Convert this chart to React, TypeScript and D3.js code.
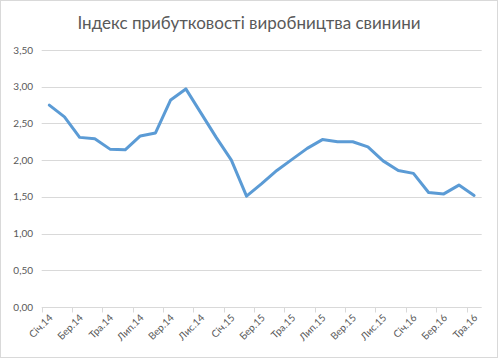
import React, { useRef, useEffect } from "react";
import * as d3 from "d3";

const months = [
    "Січ.14", "Лют.14", "Бер.14", "Кві.14", "Тра.14", "Чер.14", "Лип.14", "Сер.14", "Вер.14", "Жов.14", "Лис.14", "Гру.14",
    "Січ.15", "Лют.15", "Бер.15", "Кві.15", "Тра.15", "Чер.15", "Лип.15", "Сер.15", "Вер.15", "Жов.15", "Лис.15", "Гру.15",
    "Січ.16", "Лют.16", "Бер.16", "Кві.16", "Тра.16",
];
const values = [
    2.75, 2.59, 2.31, 2.29, 2.15, 2.14, 2.33, 2.37, 2.82, 2.97, 2.64, 2.31,
    2.00, 1.51, 1.68, 1.86, 2.01, 2.16, 2.28, 2.25, 2.25, 2.18, 1.99, 1.86,
    1.82, 1.56, 1.54, 1.66, 1.52,
];
const yTicks = [0, 0.5, 1, 1.5, 2, 2.5, 3, 3.5];
const title = "Індекс прибутковості виробництва свинини";

const W = 499;
const H = 359;
const FONT = "Lato, 'Open Sans', sans-serif";

export default function App() {
    const svgRef = useRef<SVGSVGElement>(null);

    useEffect(() => {
        if (!svgRef.current) return;
        const svg = d3.select(svgRef.current);
        svg.selectAll("*").remove();

        const left = 41.7, right = 481.7, top = 50, bottom = 307;

        const x = d3.scaleBand<string>().domain(months).range([left, right]);
        const y = d3.scaleLinear().domain([0, 3.5]).range([bottom, top]);

        // chart border
        svg.append("rect")
            .attr("x", 0.5).attr("y", 0.5)
            .attr("width", W - 2).attr("height", H - 2)
            .attr("fill", "white")
            .attr("stroke", "#D9D9D9");

        svg.append("text")
            .attr("x", 249).attr("y", 29)
            .attr("text-anchor", "middle")
            .style("font-family", FONT)
            .style("font-size", "17px")
            .attr("fill", "#595959")
            .text(title);

        // gridlines
        svg.append("g").selectAll("line")
            .data(yTicks.filter(d => d > 0))
            .join("line")
            .attr("x1", left).attr("x2", right)
            .attr("y1", d => Math.round(y(d)) + 0.5)
            .attr("y2", d => Math.round(y(d)) + 0.5)
            .attr("stroke", "#D9D9D9")
            .attr("stroke-width", 1);

        svg.append("g").selectAll("text")
            .data(yTicks)
            .join("text")
            .attr("x", 33)
            .attr("y", d => y(d) + 3.5)
            .attr("text-anchor", "end")
            .style("font-family", FONT)
            .style("font-size", "10px")
            .attr("fill", "#595959")
            .text(d => d3.format(".2f")(d).replace(".", ","));

        // x axis
        const axisY = Math.round(y(0)) + 0.5;
        svg.append("line")
            .attr("x1", left).attr("x2", right)
            .attr("y1", axisY).attr("y2", axisY)
            .attr("stroke", "#D9D9D9");

        const tickIdx = d3.range(0, months.length + 1, 2);
        svg.append("g").selectAll("line")
            .data(tickIdx)
            .join("line")
            .attr("x1", i => Math.round(left + i * x.step()) + 0.5)
            .attr("x2", i => Math.round(left + i * x.step()) + 0.5)
            .attr("y1", axisY).attr("y2", axisY + 5)
            .attr("stroke", "#D9D9D9");

        const bw = x.bandwidth();
        svg.append("g").selectAll("text")
            .data(months.filter((_, i) => i % 2 === 0))
            .join("text")
            .attr("transform", d => `translate(${(x(d) || 0) + bw / 2 + 4},${axisY + 11}) rotate(-45)`)
            .attr("text-anchor", "end")
            .style("font-family", FONT)
            .style("font-size", "10px")
            .attr("fill", "#595959")
            .text(d => d);

        const line = d3.line<number>()
            .x((_, i) => (x(months[i]) || 0) + bw / 2)
            .y(d => y(d));

        svg.append("path")
            .datum(values)
            .attr("d", line)
            .attr("fill", "none")
            .attr("stroke", "#5B9BD5")
            .attr("stroke-width", 3)
            .attr("stroke-linejoin", "round")
            .attr("stroke-linecap", "round");
    }, []);

    return (
        <svg ref={svgRef} width={W} height={H}
            style={{ position: "absolute", left: 0, top: 0, background: "white" }} />
    );
}
